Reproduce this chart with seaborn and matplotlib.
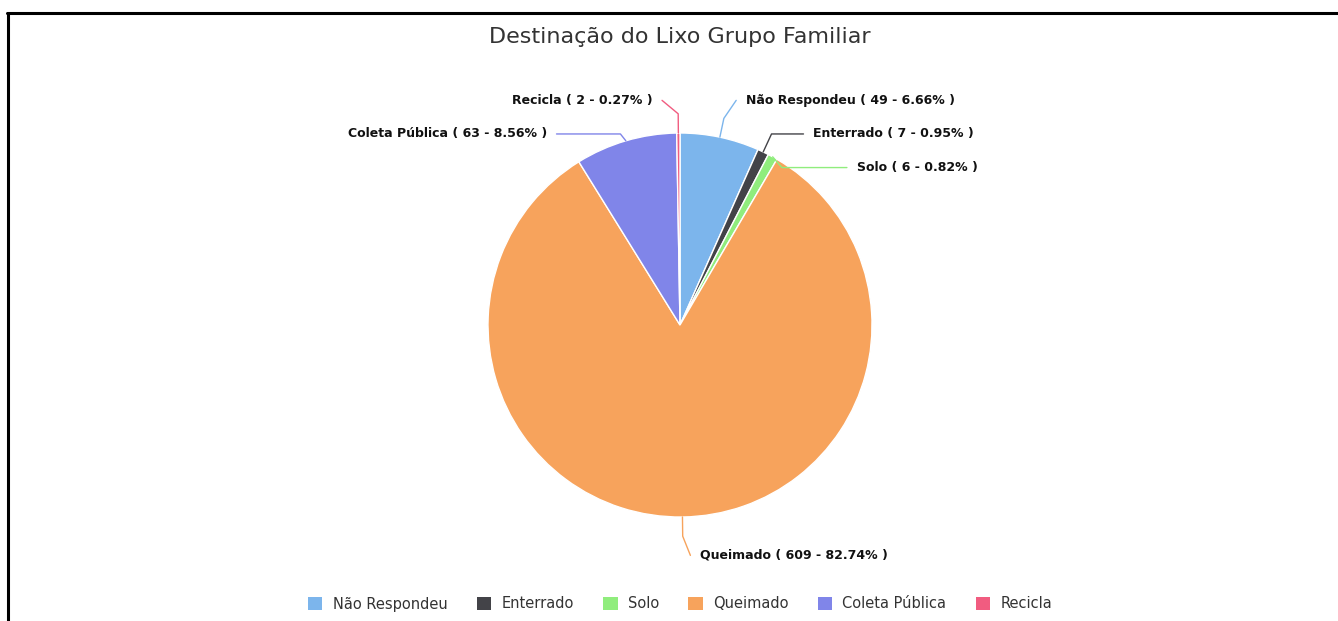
import numpy as np
import matplotlib
matplotlib.use("Agg")
import matplotlib.pyplot as plt
from matplotlib.patches import Patch
from matplotlib.lines import Line2D
import seaborn as sns

categories = ['Não Respondeu', 'Enterrado', 'Solo', 'Queimado', 'Coleta Pública', 'Recicla']
counts = [49, 7, 6, 609, 63, 2]
colors = sns.color_palette(['#7cb5ec', '#434348', '#90ed7d', '#f7a35c', '#8085e9', '#f15c80'])

sns.set_theme(style='white')
plt.rcParams['font.family'] = ['DejaVu Sans']

W, H = 1338, 621
cx, cy, rad = 680, 325, 192  # pie centre / radius in pixels
fig = plt.figure(figsize=(W / 100, H / 100), dpi=100)
aw, ah = 1000, 580
ax = fig.add_axes([(cx - aw / 2) / W, (H - cy - ah / 2) / H, aw / W, ah / H])

wedges, _ = ax.pie(counts, colors=colors, startangle=90, counterclock=False,
                   wedgeprops=dict(edgecolor='white', linewidth=1))
ax.set_xlim(-aw / 2 / rad, aw / 2 / rad)
ax.set_ylim(-ah / 2 / rad, ah / 2 / rad)
ax.set_aspect('equal')
ax.axis('off')

# data labels, highcharts style
total = sum(counts)
cum = np.cumsum([0] + counts)
mid = (cum[:-1] + cum[1:]) / 2 / total * 2 * np.pi  # clockwise from top
labels = []
for i, c in enumerate(categories):
    a = mid[i]
    side = 1 if np.sin(a) >= 0 else -1
    labels.append(dict(i=i, a=a, side=side, y=1.2 * np.cos(a)))

gap = 0.175
for side in (1, -1):
    grp = sorted([l for l in labels if l['side'] == side and l['y'] > 0], key=lambda l: -l['y'])
    prev = None
    for l in grp:
        l['y'] = min(l['y'], 1.17)
        if prev is not None:
            l['y'] = min(l['y'], prev - gap)
        prev = l['y']

Rl, pad = 222 / 192, 20 / 192
for l in labels:
    i, a, side, y = l['i'], l['a'], l['side'], l['y']
    ex, ey = np.sin(a), np.cos(a)
    xf = np.sqrt(max(Rl ** 2 - y ** 2, 0)) + pad
    if side > 0:
        tx = max(xf, ex + 0.135) if y > 0 else xf
    else:
        tx = min(-xf, ex - 0.135)
    bx, by = 1.1 * ex, 1.1 * ey
    if abs(by) > abs(y) - 0.02:
        by = y
    ax.plot([ex, bx, tx - side * 0.05], [ey, by, y], color=colors[i], lw=1, solid_capstyle='round')
    pct = counts[i] / total * 100
    ax.text(tx, y, f'{categories[i]} ( {counts[i]} - {pct:.2f}% )',
            ha='left' if side > 0 else 'right', va='center',
            fontsize=9, fontweight='bold', color='#111111')

fig.text(cx / W, 1 - 37 / H, 'Destinação do Lixo Grupo Familiar', ha='center', va='center',
         fontsize=16, color='#333333')

handles = [Patch(facecolor=colors[i], edgecolor='none', label=c) for i, c in enumerate(categories)]
fig.legend(handles=handles, loc='center', bbox_to_anchor=(cx / W, 1 - 604 / H), ncol=6,
           frameon=False, fontsize=10.5, handlelength=1.0, handleheight=1.0,
           handletextpad=0.7, columnspacing=2.0, labelcolor='#333333')

# frame lines of the screenshot
fig.add_artist(Line2D([7 / W, 1], [1 - 12.5 / H] * 2, color='black', lw=2.2, transform=fig.transFigure))
fig.add_artist(Line2D([8 / W] * 2, [0, 1 - 12.5 / H], color='black', lw=2.2, transform=fig.transFigure))

fig.savefig('out.png', dpi=100, facecolor='white')
